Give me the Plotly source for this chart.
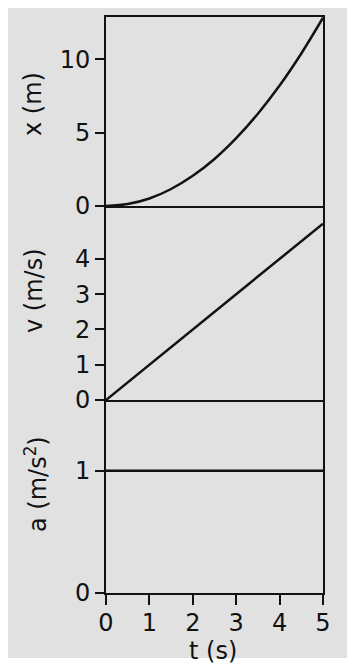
import plotly.graph_objects as go

# Data
t_pos = [0, 0.5, 1, 1.5, 2, 2.5, 3, 3.5, 4, 4.5, 5]
x_pos = [0, 0.13, 0.51, 1.16, 2.06, 3.21, 4.63, 6.30, 8.22, 10.41, 12.85]
t_vel = [0, 5]
v_vel = [0, 5]
t_acc = [0, 5]
a_acc = [1, 1]

x_ticks = [0, 1, 2, 3, 4, 5]
xpos_ticks = [0, 5, 10]
v_ticks = [0, 1, 2, 3, 4]
a_ticks = [0, 1]

W, H = 347, 660
INK = "#121212"
BG = "#e1e1e1"
FONT = "DejaVu Sans"
FS = 24

def px(v):
    return v / W

def py(v):
    return 1 - v / H

xdom = [px(98), px(315)]
dom_top = [py(198), py(9)]
dom_mid = [py(392), py(198)]
dom_bot = [py(585), py(392)]

fig = go.Figure()
line = dict(color=INK, width=2.5)
fig.add_trace(go.Scatter(x=t_pos, y=x_pos, mode="lines", line=dict(color=INK, width=2.5, shape="spline"), xaxis="x", yaxis="y"))
fig.add_trace(go.Scatter(x=t_vel, y=v_vel, mode="lines", line=line, xaxis="x2", yaxis="y2"))
fig.add_trace(go.Scatter(x=t_acc, y=a_acc, mode="lines", line=line, xaxis="x3", yaxis="y3"))

common_axis = dict(showline=True, linecolor=INK, linewidth=2, mirror=True, automargin=False,
                   showgrid=False, zeroline=False, ticks="outside",
                   tickcolor=INK, tickwidth=2, tickfont=dict(family=FONT, size=FS, color=INK))

xaxis_hidden = dict(common_axis, domain=xdom, range=[0, 5], showticklabels=False, ticks="", tickvals=x_ticks)

def title(text, x, y, angle=-90):
    return dict(text=text, x=px(x), y=py(y), xref="paper", yref="paper", textangle=angle,
                xanchor="center", yanchor="middle",
                showarrow=False, font=dict(family=FONT, size=FS, color=INK))

fig.update_layout(
    width=W, height=H,
    margin=dict(l=0, r=0, t=0, b=0, autoexpand=False),
    paper_bgcolor="white",
    plot_bgcolor=BG,
    showlegend=False,
    xaxis=dict(xaxis_hidden, anchor="y", mirror=True),
    xaxis2=dict(xaxis_hidden, anchor="y2", mirror=False),
    xaxis3=dict(common_axis, domain=xdom, range=[0, 5], tickvals=x_ticks, ticklen=10,
                ticklabelstandoff=-3, anchor="y3", mirror=False),
    yaxis=dict(common_axis, domain=dom_top, range=[0, 12.9], tickvals=xpos_ticks, ticklen=9, anchor="x"),
    yaxis2=dict(common_axis, domain=dom_mid, range=[0, 5.5], tickvals=v_ticks, ticklen=9, anchor="x2"),
    yaxis3=dict(common_axis, domain=dom_bot, range=[0, 1.58], tickvals=a_ticks, ticklen=9, anchor="x3"),
    shapes=[dict(type="rect", xref="paper", yref="paper", x0=-0.01, x1=1.01,
                 y0=py(650), y1=1.01, fillcolor=BG, line=dict(width=0), layer="below")],
    annotations=[
        title("x (m)", 25, 96),
        title("v (m/s)", 26, 283),
        title("a (m/s<sup>2</sup>)", 28, 476),
        title("t (s)", 205, 643, angle=0),
    ],
)

fig.write_html("out.html")
